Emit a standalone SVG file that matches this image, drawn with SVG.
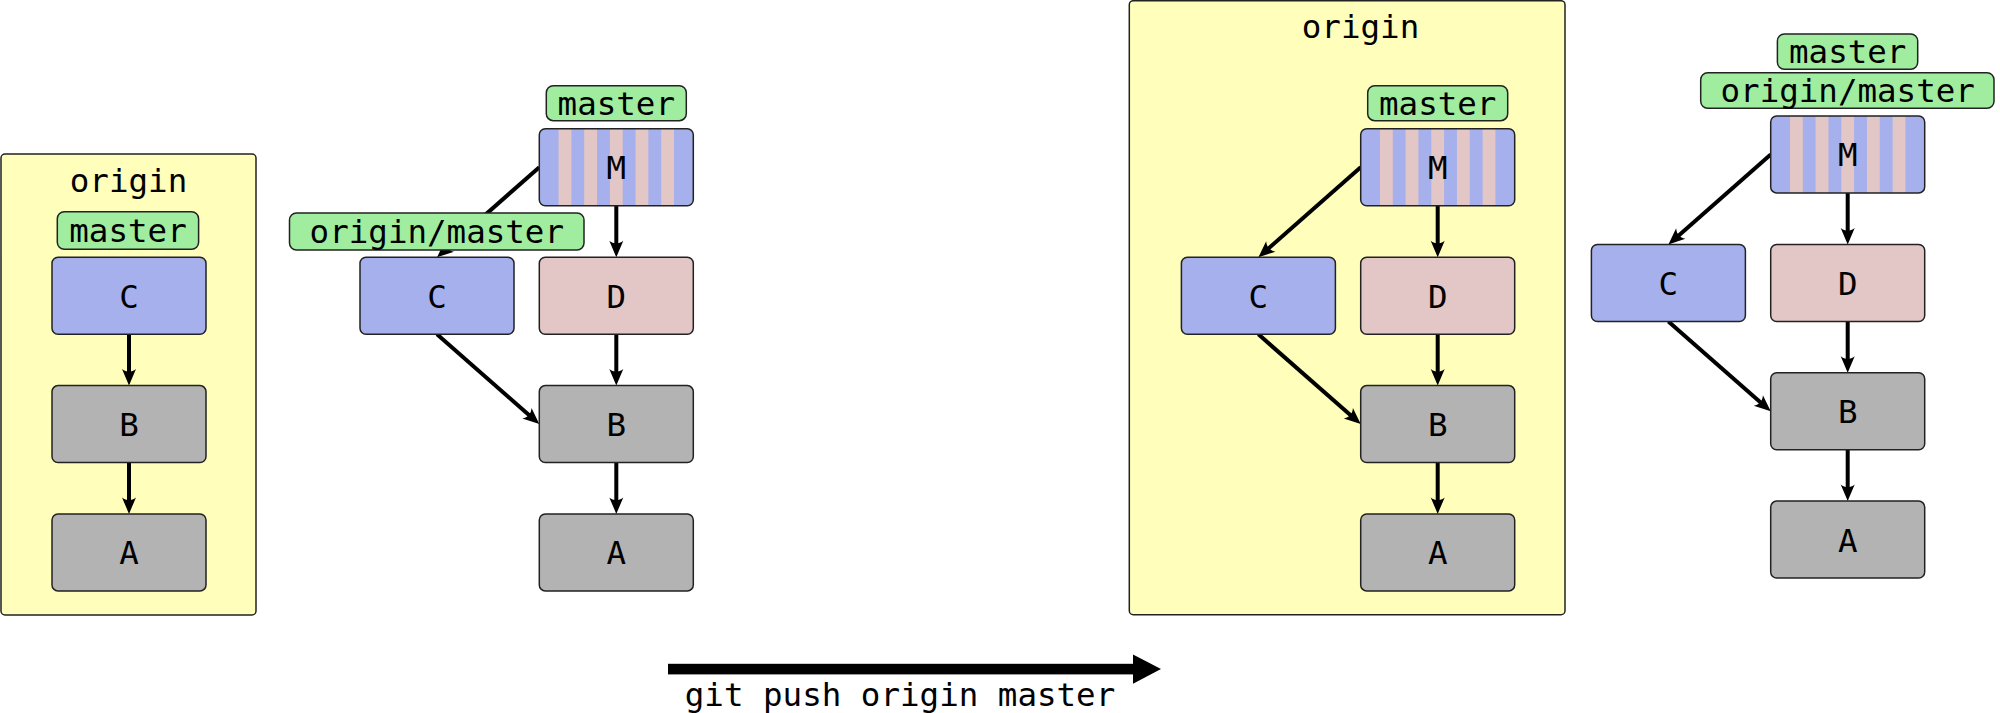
<svg xmlns="http://www.w3.org/2000/svg" width="2000" height="713" viewBox="0 0 2000 713">
  <style>
    .box { fill: #ffffbb; stroke: #222; stroke-width: 1.5; }
    .node { stroke: #222; stroke-width: 1.5; }
    .blue { fill: #a6b0ec; }
    .pink { fill: #e3c6c6; }
    .gray { fill: #b3b3b3; }
    .lbl { fill: #a0eda0; stroke: #222; stroke-width: 1.5; }
    .outline { fill: none; stroke: #222; stroke-width: 1.5; }
    .stripe { fill: #e3c6c6; }
    text { font-family: "DejaVu Sans Mono", "Liberation Mono", monospace; font-size: 32.5px; fill: #000; text-anchor: middle; }
    .edge { stroke: #000; stroke-width: 4; fill: none; marker-end: url(#ah); }
  </style>
  <defs>
    <marker id="ah" markerUnits="userSpaceOnUse" markerWidth="40" markerHeight="40" refX="0" refY="0" orient="auto" overflow="visible" viewBox="-20 -20 40 40">
      <path d="M10,0 L-6.5,-7 C-3,-2.5 -3,2.5 -6.5,7 Z" fill="#000"/>
    </marker>
  </defs>

  <!-- Diagram 1: origin before -->
  <g id="diagram1">
    <g id="origin-box-1">
      <rect class="box" x="1" y="154" width="255" height="461" rx="4"/>
      <text x="128.5" y="192">origin</text>
    </g>
    <g id="d1-connectors">
      <line class="edge" x1="129" y1="334.3" x2="129" y2="375.6"/>
      <line class="edge" x1="129" y1="462.6" x2="129" y2="503.9"/>
    </g>
    <g id="d1-label-master">
      <rect class="lbl" x="57.3" y="211.7" width="141.3" height="37.6" rx="7"/>
      <text x="128" y="242">master</text>
    </g>
    <g id="d1-node-C">
      <rect class="node blue" x="52" y="257.3" width="154" height="77" rx="6"/>
      <text x="129" y="307.8">C</text>
    </g>
    <g id="d1-node-B">
      <rect class="node gray" x="52" y="385.6" width="154" height="77" rx="6"/>
      <text x="129" y="436.1">B</text>
    </g>
    <g id="d1-node-A">
      <rect class="node gray" x="52" y="513.9" width="154" height="77" rx="6"/>
      <text x="129" y="564.4">A</text>
    </g>
  </g>

  <!-- Diagram 2: local before -->
  <g id="diagram2">
    <g id="d2-connectors">
      <line class="edge" x1="616.3" y1="205.7" x2="616.3" y2="247.3"/>
      <line class="edge" x1="616.3" y1="334.3" x2="616.3" y2="375.6"/>
      <line class="edge" x1="616.3" y1="462.6" x2="616.3" y2="503.9"/>
      <line class="edge" x1="539.3" y1="167.2" x2="444.5" y2="250.7"/>
      <line class="edge" x1="437" y1="334.3" x2="531.8" y2="417.5"/>
    </g>
    <g id="d2-label-master">
      <rect class="lbl" x="546.3" y="85.7" width="140" height="35" rx="7"/>
      <text x="616.3" y="114.5">master</text>
    </g>
    <g id="d2-node-M">
      <rect class="blue" x="539.3" y="128.7" width="154" height="77" rx="6"/>
      <rect class="stripe" x="558.55" y="128.7" width="12.83" height="77"/>
      <rect class="stripe" x="584.21" y="128.7" width="12.83" height="77"/>
      <rect class="stripe" x="609.87" y="128.7" width="12.83" height="77"/>
      <rect class="stripe" x="635.53" y="128.7" width="12.83" height="77"/>
      <rect class="stripe" x="661.19" y="128.7" width="12.83" height="77"/>
      <rect class="outline" x="539.3" y="128.7" width="154" height="77" rx="6"/>
      <text x="616.3" y="179.2">M</text>
    </g>
    <g id="d2-label-origin-master">
      <rect class="lbl" x="289.5" y="213" width="294.5" height="37" rx="7"/>
      <text x="436.8" y="243">origin/master</text>
    </g>
    <g id="d2-node-C">
      <rect class="node blue" x="360" y="257.3" width="154" height="77" rx="6"/>
      <text x="437" y="307.8">C</text>
    </g>
    <g id="d2-node-D">
      <rect class="node pink" x="539.3" y="257.3" width="154" height="77" rx="6"/>
      <text x="616.3" y="307.8">D</text>
    </g>
    <g id="d2-node-B">
      <rect class="node gray" x="539.3" y="385.6" width="154" height="77" rx="6"/>
      <text x="616.3" y="436.1">B</text>
    </g>
    <g id="d2-node-A">
      <rect class="node gray" x="539.3" y="513.9" width="154" height="77" rx="6"/>
      <text x="616.3" y="564.4">A</text>
    </g>
  </g>

  <!-- Push arrow -->
  <g id="push-arrow">
    <rect x="668" y="663.8" width="467" height="10.6" fill="#000"/>
    <polygon points="1133,654.5 1161,669 1133,683.8" fill="#000"/>
    <text x="900" y="706">git push origin master</text>
  </g>

  <!-- Diagram 3: origin after -->
  <g id="origin-box-3">
    <rect class="box" x="1129.3" y="0.7" width="435.7" height="614" rx="4"/>
    <text x="1360.5" y="37.7">origin</text>
  </g>
  <g id="diagram3" transform="translate(821.4,0)">
    <g id="d3-connectors">
      <line class="edge" x1="616.3" y1="205.7" x2="616.3" y2="247.3"/>
      <line class="edge" x1="616.3" y1="334.3" x2="616.3" y2="375.6"/>
      <line class="edge" x1="616.3" y1="462.6" x2="616.3" y2="503.9"/>
      <line class="edge" x1="539.3" y1="167.2" x2="444.5" y2="250.7"/>
      <line class="edge" x1="437" y1="334.3" x2="531.8" y2="417.5"/>
    </g>
    <g id="d3-label-master">
      <rect class="lbl" x="546.3" y="85.7" width="140" height="35" rx="7"/>
      <text x="616.3" y="114.5">master</text>
    </g>
    <g id="d3-node-M">
      <rect class="blue" x="539.3" y="128.7" width="154" height="77" rx="6"/>
      <rect class="stripe" x="558.55" y="128.7" width="12.83" height="77"/>
      <rect class="stripe" x="584.21" y="128.7" width="12.83" height="77"/>
      <rect class="stripe" x="609.87" y="128.7" width="12.83" height="77"/>
      <rect class="stripe" x="635.53" y="128.7" width="12.83" height="77"/>
      <rect class="stripe" x="661.19" y="128.7" width="12.83" height="77"/>
      <rect class="outline" x="539.3" y="128.7" width="154" height="77" rx="6"/>
      <text x="616.3" y="179.2">M</text>
    </g>
    <g id="d3-node-C">
      <rect class="node blue" x="360" y="257.3" width="154" height="77" rx="6"/>
      <text x="437" y="307.8">C</text>
    </g>
    <g id="d3-node-D">
      <rect class="node pink" x="539.3" y="257.3" width="154" height="77" rx="6"/>
      <text x="616.3" y="307.8">D</text>
    </g>
    <g id="d3-node-B">
      <rect class="node gray" x="539.3" y="385.6" width="154" height="77" rx="6"/>
      <text x="616.3" y="436.1">B</text>
    </g>
    <g id="d3-node-A">
      <rect class="node gray" x="539.3" y="513.9" width="154" height="77" rx="6"/>
      <text x="616.3" y="564.4">A</text>
    </g>
  </g>

  <!-- Diagram 4: local after -->
  <g id="diagram4" transform="translate(1231.4,-12.8)">
    <g id="d4-connectors">
      <line class="edge" x1="616.3" y1="205.7" x2="616.3" y2="247.3"/>
      <line class="edge" x1="616.3" y1="334.3" x2="616.3" y2="375.6"/>
      <line class="edge" x1="616.3" y1="462.6" x2="616.3" y2="503.9"/>
      <line class="edge" x1="539.3" y1="167.2" x2="444.5" y2="250.7"/>
      <line class="edge" x1="437" y1="334.3" x2="531.8" y2="417.5"/>
    </g>
    <g id="d4-label-master">
      <rect class="lbl" x="546" y="46.8" width="140.3" height="35.3" rx="7"/>
      <text x="616.3" y="75.6">master</text>
    </g>
    <g id="d4-label-origin-master">
      <rect class="lbl" x="469.3" y="85.5" width="293.3" height="35.6" rx="7"/>
      <text x="616.3" y="114.5">origin/master</text>
    </g>
    <g id="d4-node-M">
      <rect class="blue" x="539.3" y="128.7" width="154" height="77" rx="6"/>
      <rect class="stripe" x="558.55" y="128.7" width="12.83" height="77"/>
      <rect class="stripe" x="584.21" y="128.7" width="12.83" height="77"/>
      <rect class="stripe" x="609.87" y="128.7" width="12.83" height="77"/>
      <rect class="stripe" x="635.53" y="128.7" width="12.83" height="77"/>
      <rect class="stripe" x="661.19" y="128.7" width="12.83" height="77"/>
      <rect class="outline" x="539.3" y="128.7" width="154" height="77" rx="6"/>
      <text x="616.3" y="179.2">M</text>
    </g>
    <g id="d4-node-C">
      <rect class="node blue" x="360" y="257.3" width="154" height="77" rx="6"/>
      <text x="437" y="307.8">C</text>
    </g>
    <g id="d4-node-D">
      <rect class="node pink" x="539.3" y="257.3" width="154" height="77" rx="6"/>
      <text x="616.3" y="307.8">D</text>
    </g>
    <g id="d4-node-B">
      <rect class="node gray" x="539.3" y="385.6" width="154" height="77" rx="6"/>
      <text x="616.3" y="436.1">B</text>
    </g>
    <g id="d4-node-A">
      <rect class="node gray" x="539.3" y="513.9" width="154" height="77" rx="6"/>
      <text x="616.3" y="564.4">A</text>
    </g>
  </g>
</svg>
